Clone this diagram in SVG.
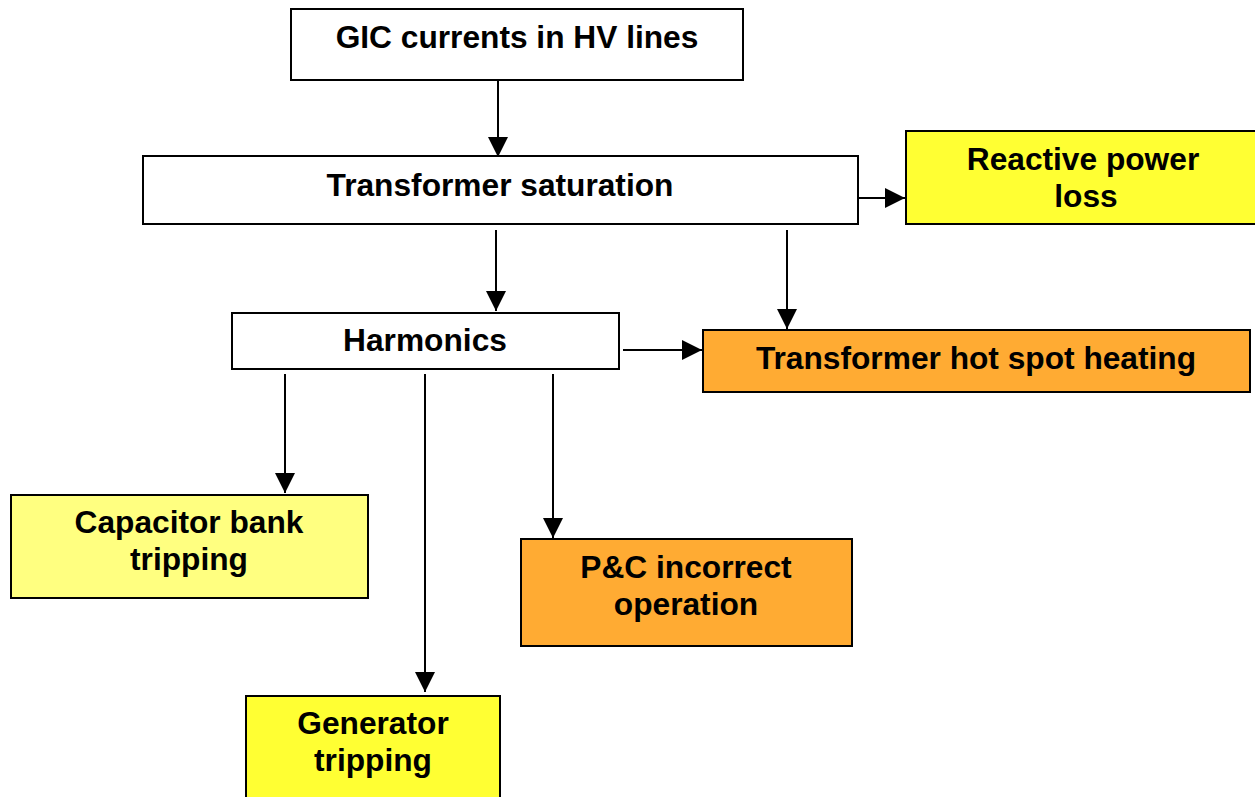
<svg xmlns="http://www.w3.org/2000/svg" width="1255" height="797" viewBox="0 0 1255 797">
<style>
.box{stroke:#000;stroke-width:2}
.w{fill:#fff}
.y{fill:#ffff33}
.ly{fill:#ffff80}
.o{fill:#ffab33}
text{font-family:"Liberation Sans",Arial,sans-serif;font-weight:bold;font-size:31.7px;fill:#000;text-anchor:middle}
.c line{stroke:#000;stroke-width:2;marker-end:url(#ah)}
</style>
<defs>
<marker id="ah" markerUnits="userSpaceOnUse" markerWidth="20" markerHeight="20" refX="20" refY="10" orient="auto" viewBox="0 0 20 20">
<path d="M0,0 L20,10 L0,20 z" fill="#000"/>
</marker>
</defs>
<rect width="1255" height="797" fill="#fff"/>
<g id="n-gic"><rect class="box w" x="291" y="9" width="452" height="71"/><text x="517" y="48">GIC currents in HV lines</text></g>
<g id="n-sat"><rect class="box w" x="143" y="156" width="715" height="68"/><text x="500" y="196">Transformer saturation</text></g>
<g id="n-rpl"><rect class="box y" x="906" y="131" width="352" height="93"/><text x="1083" y="170">Reactive power</text><text x="1086" y="207">loss</text></g>
<g id="n-harm"><rect class="box w" x="232" y="313" width="387" height="56"/><text x="425" y="351">Harmonics</text></g>
<g id="n-hot"><rect class="box o" x="703" y="330" width="547" height="62"/><text x="976" y="369">Transformer hot spot heating</text></g>
<g id="n-cap"><rect class="box ly" x="11" y="495" width="357" height="103"/><text x="189" y="533">Capacitor bank</text><text x="189" y="570">tripping</text></g>
<g id="n-pc"><rect class="box o" x="521" y="539" width="331" height="107"/><text x="686" y="578">P&amp;C incorrect</text><text x="686" y="615">operation</text></g>
<g id="n-gen"><rect class="box y" x="246" y="696" width="254" height="110"/><text x="373" y="734">Generator</text><text x="373" y="771">tripping</text></g>
<g id="connectors" class="c">
<line x1="498" y1="80" x2="498" y2="157"/>
<line x1="858" y1="198" x2="905" y2="198"/>
<line x1="496" y1="230" x2="496" y2="311"/>
<line x1="787" y1="230" x2="787" y2="329"/>
<line x1="623" y1="350" x2="702" y2="350"/>
<line x1="285" y1="374" x2="285" y2="493"/>
<line x1="425" y1="374" x2="425" y2="692"/>
<line x1="553" y1="374" x2="553" y2="538"/>
</g>
</svg>
